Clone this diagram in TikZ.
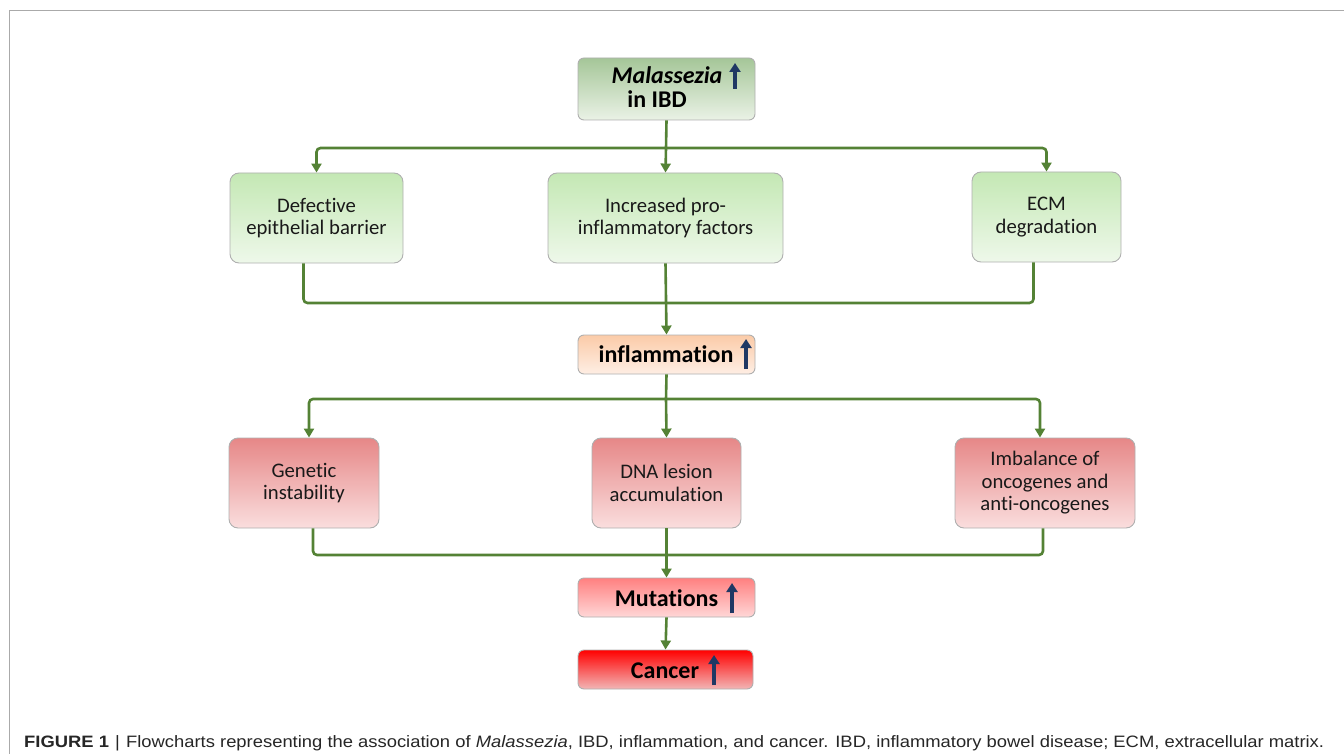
\documentclass[tikz,border=0pt]{standalone}
\usepackage{fontspec}
\setmainfont[Ligatures=NoCommon]{Carlito}
\newfontfamily\capfont{Liberation Sans}
\usetikzlibrary{arrows.meta,calc}
\definecolor{lgreen}{RGB}{84,130,53}
\definecolor{upblue}{RGB}{31,56,100}
\definecolor{framegray}{RGB}{170,170,170}
\definecolor{edgegray}{RGB}{175,175,175}
\tikzset{
  box/.style={draw=edgegray, line width=0.9pt, rounded corners=9pt, align=center,
    font=\fontsize{20.7}{22.5}\selectfont, text=black!90, inner sep=0pt},
  greenbox/.style={box, top color={rgb,255:red,196;green,232;blue,180}, bottom color={rgb,255:red,238;green,248;blue,234}},
  redbox/.style={box, top color={rgb,255:red,230;green,135;blue,135}, bottom color={rgb,255:red,250;green,222;blue,222}},
  keybox/.style={draw=edgegray, line width=0.9pt, rounded corners=6pt, align=center, inner sep=0pt},
  keytext/.style={font=\fontsize{24}{26}\selectfont\bfseries, text=black, inner sep=0pt, anchor=base},
  conn/.style={draw=lgreen, line width=2.6pt, rounded corners=4pt},
  arr/.style={conn, -{Triangle[length=9pt,width=10pt]}},
  uparr/.style={draw=upblue, line width=3.6pt, -{Triangle[length=9pt,width=11pt]}},
}
\begin{document}
\begin{tikzpicture}[x=1pt,y=-1pt]
\useasboundingbox (0,0) rectangle (1344,754);
% frame
\draw[framegray, line width=1.5pt] (9.5,754) -- (9.5,10.5) -- (1344,10.5);

% top node
\node[keybox, minimum width=177pt, minimum height=62pt,
  top color={rgb,255:red,165;green,198;blue,152}, bottom color={rgb,255:red,234;green,242;blue,230}]
  (mal) at (666.5,89) {};
\node[keytext, font=\fontsize{24}{26}\selectfont\bfseries\itshape] (maltxt) at (667,84) {Malassezia};
\node[keytext] (ibdtxt) at (657,108) {in IBD};
\draw[uparr] (735,89) -- (735,63);

% level 1
\node[greenbox, minimum width=173pt, minimum height=90pt] (b1) at (316.5,218) {Defective\\epithelial barrier};
\node[greenbox, minimum width=235pt, minimum height=90pt] (b2) at (665.5,218) {Increased pro-\\inflammatory factors};
\node[greenbox, minimum width=149pt, minimum height=90pt] (b3) at (1046.5,217) {ECM\\degradation};

\coordinate (h1) at (666,148);
\draw[conn] (mal.south) -- (h1);
\draw[arr] (h1) -| (b1.north);
\draw[arr] (h1) -| (b3.north);
\draw[arr] (h1) -- (b2.north);

% inflammation
\node[keybox, minimum width=177pt, minimum height=39pt,
  top color={rgb,255:red,251;green,203;blue,168}, bottom color={rgb,255:red,254;green,238;blue,228}]
  (infl) at (666.5,354.5) {};
\node[keytext] (infltxt) at (666,362.5) {inflammation};
\draw[uparr] (746,369) -- (746,339);

\coordinate (h2) at (666,303);
\draw[conn] ([xshift=-13pt]b1.south) |- (h2) -| ([xshift=-13pt]b3.south);
\draw[arr] (b2.south) -- (infl.north);

% level 2
\node[redbox, minimum width=150pt, minimum height=90pt] (b4) at (304,483) {Genetic\\instability};
\node[redbox, minimum width=149pt, minimum height=90pt] (b5) at (666.5,483) {DNA lesion\\accumulation};
\node[redbox, minimum width=180pt, minimum height=90pt] (b6) at (1045,483) {Imbalance of\\oncogenes and\\anti-oncogenes};

\coordinate (h3) at (666,399);
\draw[conn] (infl.south) -- (h3);
\draw[arr] (h3) -| ([xshift=5pt]b4.north);
\draw[arr] (h3) -| ([xshift=-5pt]b6.north);
\draw[arr] (h3) -- (b5.north);

% mutations
\node[keybox, minimum width=177pt, minimum height=39pt,
  top color={rgb,255:red,255;green,128;blue,128}, bottom color={rgb,255:red,255;green,215;blue,215}]
  (mut) at (666.5,597.5) {};
\node[keytext] (muttxt) at (666.5,606) {Mutations};
\draw[uparr] (732,613) -- (732,583);

\coordinate (h4) at (666,555);
\draw[conn] ([xshift=9pt]b4.south) |- (h4) -| ([xshift=-2pt]b6.south);
\draw[arr] (b5.south) -- (mut.north);

% cancer
\node[keybox, minimum width=175pt, minimum height=39pt,
  top color={rgb,255:red,255;green,0;blue,0}, bottom color={rgb,255:red,242;green,182;blue,182}]
  (can) at (665.5,669.5) {};
\node[keytext] (cantxt) at (665,678) {Cancer};
\draw[uparr] (714,685) -- (714,655);
\draw[arr] (mut.south) -- (can.north);

% caption
\node[anchor=base west, inner sep=0pt, font=\capfont\fontsize{16.5}{18}\selectfont, text=black!85] (cap) at (24,747)
  {\scalebox{1.115}[1]{\textbf{FIGURE 1}\,\,|\,\,Flowcharts representing the association of \textit{Malassezia}, IBD, inflammation, and cancer. IBD, inflammatory bowel disease; ECM, extracellular matrix.}};
\end{tikzpicture}
\end{document}
